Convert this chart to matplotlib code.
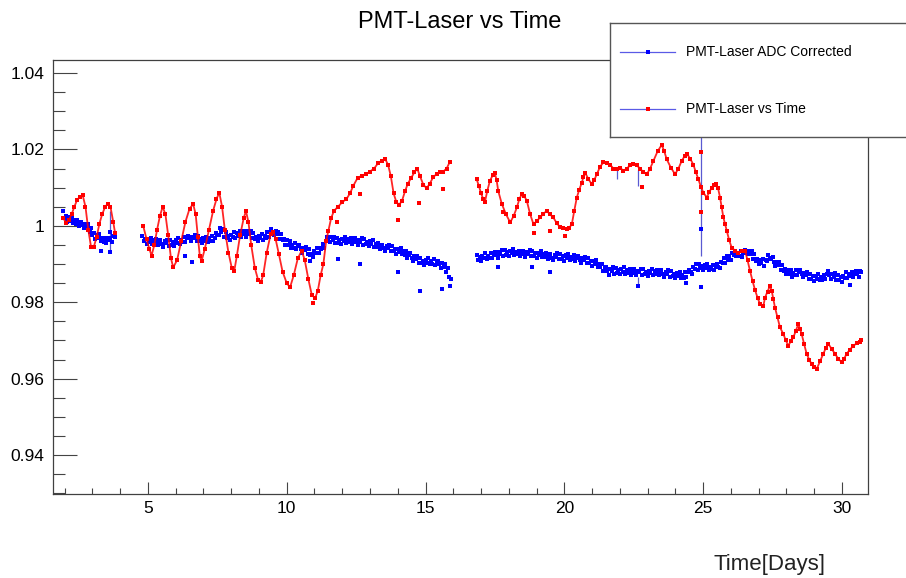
import numpy as np
import matplotlib.pyplot as plt
from matplotlib.ticker import MultipleLocator

plt.rcParams['font.family'] = ['Liberation Sans', 'DejaVu Sans']

# PMT/laser ratio after ADC correction, one value every 0.05 day, one list per run period
blue_start = [1.95, 4.80, 16.85]
blue_step = 0.05
blue_v1 = [
    1.0038, 1.0020, 1.0025, 1.0011, 1.0023, 1.0013, 1.0024, 1.0007, 1.0014, 1.0006,
    1.0016, 1.0000, 1.0007, 1.0011, 1.0001, 0.9993, 1.0005, 0.9999, 1.0004, 0.9983,
    0.9993, 0.9975, 0.9980, 0.9966, 0.9977, 0.9968, 0.9978, 0.9960, 0.9967, 0.9958,
    0.9969, 0.9954, 0.9963, 0.9968, 0.9962, 0.9957, 0.9974, 0.9971]
blue_v2 = [
    0.9973, 0.9959, 0.9965, 0.9952, 0.9965, 0.9958, 0.9969, 0.9953, 0.9962, 0.9954,
    0.9965, 0.9950, 0.9958, 0.9962, 0.9953, 0.9945, 0.9959, 0.9954, 0.9964, 0.9948,
    0.9963, 0.9950, 0.9957, 0.9947, 0.9962, 0.9956, 0.9968, 0.9953, 0.9963, 0.9958,
    0.9970, 0.9957, 0.9968, 0.9974, 0.9967, 0.9959, 0.9972, 0.9967, 0.9976, 0.9959,
    0.9973, 0.9959, 0.9966, 0.9954, 0.9968, 0.9960, 0.9972, 0.9957, 0.9967, 0.9961,
    0.9973, 0.9959, 0.9969, 0.9980, 0.9976, 0.9975, 0.9994, 0.9985, 0.9991, 0.9972,
    0.9983, 0.9969, 0.9974, 0.9962, 0.9975, 0.9970, 0.9983, 0.9969, 0.9980, 0.9974,
    0.9987, 0.9972, 0.9982, 0.9987, 0.9978, 0.9972, 0.9986, 0.9979, 0.9986, 0.9968,
    0.9980, 0.9965, 0.9970, 0.9959, 0.9974, 0.9967, 0.9979, 0.9964, 0.9973, 0.9969,
    0.9983, 0.9971, 0.9983, 0.9991, 0.9985, 0.9975, 0.9986, 0.9978, 0.9985, 0.9966,
    0.9978, 0.9962, 0.9965, 0.9951, 0.9962, 0.9951, 0.9960, 0.9943, 0.9951, 0.9943,
    0.9954, 0.9938, 0.9946, 0.9949, 0.9939, 0.9930, 0.9942, 0.9936, 0.9944, 0.9925,
    0.9938, 0.9923, 0.9927, 0.9918, 0.9934, 0.9928, 0.9942, 0.9929, 0.9941, 0.9938,
    0.9952, 0.9943, 0.9959, 0.9970, 0.9967, 0.9958, 0.9971, 0.9964, 0.9972, 0.9955,
    0.9968, 0.9955, 0.9962, 0.9952, 0.9966, 0.9959, 0.9972, 0.9956, 0.9965, 0.9958,
    0.9969, 0.9953, 0.9962, 0.9967, 0.9957, 0.9950, 0.9964, 0.9958, 0.9968, 0.9951,
    0.9966, 0.9952, 0.9958, 0.9947, 0.9960, 0.9952, 0.9962, 0.9945, 0.9953, 0.9945,
    0.9954, 0.9938, 0.9946, 0.9950, 0.9941, 0.9933, 0.9946, 0.9941, 0.9950, 0.9934,
    0.9948, 0.9934, 0.9939, 0.9927, 0.9940, 0.9932, 0.9942, 0.9925, 0.9933, 0.9924,
    0.9934, 0.9917, 0.9924, 0.9928, 0.9917, 0.9908, 0.9920, 0.9913, 0.9921, 0.9903,
    0.9916, 0.9902, 0.9909, 0.9897, 0.9911, 0.9903, 0.9915, 0.9899, 0.9908, 0.9901,
    0.9912, 0.9897, 0.9906, 0.9909, 0.9899, 0.9890, 0.9902, 0.9893, 0.9899, 0.9879,
    0.9890, 0.9866, 0.9862]
blue_v3 = [
    0.9923, 0.9910, 0.9918, 0.9907, 0.9922, 0.9915, 0.9928, 0.9912, 0.9922, 0.9916,
    0.9929, 0.9915, 0.9925, 0.9931, 0.9923, 0.9916, 0.9931, 0.9926, 0.9937, 0.9921,
    0.9937, 0.9924, 0.9932, 0.9921, 0.9935, 0.9928, 0.9939, 0.9923, 0.9932, 0.9925,
    0.9935, 0.9920, 0.9929, 0.9934, 0.9925, 0.9918, 0.9931, 0.9926, 0.9936, 0.9920,
    0.9934, 0.9921, 0.9928, 0.9917, 0.9930, 0.9923, 0.9934, 0.9918, 0.9926, 0.9918,
    0.9929, 0.9913, 0.9922, 0.9926, 0.9917, 0.9910, 0.9923, 0.9918, 0.9928, 0.9912,
    0.9926, 0.9913, 0.9920, 0.9909, 0.9923, 0.9915, 0.9927, 0.9911, 0.9919, 0.9912,
    0.9923, 0.9907, 0.9916, 0.9921, 0.9911, 0.9903, 0.9916, 0.9910, 0.9919, 0.9902,
    0.9916, 0.9902, 0.9908, 0.9896, 0.9908, 0.9900, 0.9910, 0.9892, 0.9900, 0.9891,
    0.9900, 0.9883, 0.9890, 0.9892, 0.9881, 0.9872, 0.9886, 0.9881, 0.9891, 0.9875,
    0.9890, 0.9877, 0.9884, 0.9873, 0.9887, 0.9880, 0.9891, 0.9875, 0.9884, 0.9877,
    0.9887, 0.9872, 0.9881, 0.9886, 0.9877, 0.9870, 0.9883, 0.9878, 0.9888, 0.9872,
    0.9886, 0.9873, 0.9880, 0.9869, 0.9883, 0.9876, 0.9888, 0.9872, 0.9881, 0.9874,
    0.9885, 0.9870, 0.9879, 0.9884, 0.9874, 0.9867, 0.9880, 0.9875, 0.9884, 0.9867,
    0.9882, 0.9868, 0.9875, 0.9863, 0.9876, 0.9869, 0.9880, 0.9863, 0.9872, 0.9864,
    0.9878, 0.9866, 0.9878, 0.9885, 0.9879, 0.9875, 0.9891, 0.9887, 0.9899, 0.9885,
    0.9901, 0.9890, 0.9896, 0.9884, 0.9897, 0.9889, 0.9901, 0.9884, 0.9893, 0.9887,
    0.9898, 0.9884, 0.9893, 0.9899, 0.9893, 0.9889, 0.9905, 0.9903, 0.9916, 0.9903,
    0.9921, 0.9910, 0.9920, 0.9911, 0.9928, 0.9923, 0.9935, 0.9920, 0.9929, 0.9922,
    0.9934, 0.9919, 0.9930, 0.9937, 0.9930, 0.9925, 0.9935, 0.9927, 0.9933, 0.9913,
    0.9925, 0.9909, 0.9913, 0.9899, 0.9911, 0.9903, 0.9913, 0.9896, 0.9910, 0.9907,
    0.9923, 0.9912, 0.9917, 0.9919, 0.9906, 0.9895, 0.9906, 0.9897, 0.9904, 0.9885,
    0.9898, 0.9882, 0.9887, 0.9873, 0.9885, 0.9875, 0.9885, 0.9866, 0.9877, 0.9872,
    0.9885, 0.9872, 0.9880, 0.9884, 0.9873, 0.9865, 0.9877, 0.9870, 0.9879, 0.9861,
    0.9875, 0.9862, 0.9868, 0.9856, 0.9869, 0.9862, 0.9873, 0.9857, 0.9865, 0.9858,
    0.9872, 0.9860, 0.9873, 0.9881, 0.9870, 0.9862, 0.9874, 0.9867, 0.9876, 0.9858,
    0.9872, 0.9858, 0.9865, 0.9853, 0.9869, 0.9864, 0.9878, 0.9864, 0.9874, 0.9868,
    0.9880, 0.9865, 0.9875, 0.9881, 0.9873, 0.9867, 0.9883, 0.9879]
blue_extra = [(3.30, 0.9935), (3.62, 0.9932), (3.63, 0.9985), (6.33, 0.9922), (6.57, 0.9904),
              (10.84, 0.9909), (11.85, 0.9914), (12.64, 0.9900), (14.00, 0.9878),
              (14.80, 0.9830), (15.58, 0.9835), (15.88, 0.9843), (17.60, 0.9891),
              (18.83, 0.9891), (19.49, 0.9878), (22.66, 0.9843), (24.40, 0.9850),
              (24.94, 0.9839), (24.94, 0.9991), (30.30, 0.9846)]

# raw PMT/laser ratio (day, value), one list per run period
red_seg1 = [(1.95, 1.0020), (2.05, 1.0008), (2.15, 1.0015), (2.25, 1.0030), (2.35, 1.0050),
            (2.45, 1.0068), (2.55, 1.0076), (2.65, 1.0080), (2.75, 1.0050), (2.85, 0.9990),
            (2.95, 0.9945), (3.05, 0.9945), (3.15, 0.9970), (3.25, 1.0005), (3.35, 1.0030),
            (3.45, 1.0048), (3.55, 1.0058), (3.65, 1.0050), (3.75, 1.0010), (3.82, 0.9980)]
red_seg2 = [(4.83, 1.0000), (4.95, 0.9965), (5.05, 0.9940), (5.13, 0.9922), (5.23, 0.9950),
            (5.33, 0.9990), (5.43, 1.0025), (5.53, 1.0050), (5.63, 1.0030), (5.73, 0.9975),
            (5.83, 0.9915), (5.91, 0.9891), (6.05, 0.9910), (6.20, 0.9960), (6.35, 1.0010),
            (6.50, 1.0045), (6.63, 1.0057), (6.72, 1.0030), (6.80, 0.9970), (6.87, 0.9920),
            (6.93, 0.9907), (7.05, 0.9940), (7.20, 0.9990), (7.35, 1.0040), (7.47, 1.0070),
            (7.57, 1.0087), (7.67, 1.0050), (7.77, 0.9990), (7.90, 0.9930), (8.02, 0.9890),
            (8.11, 0.9882), (8.20, 0.9920), (8.32, 0.9975), (8.45, 1.0020), (8.53, 1.0039),
            (8.62, 1.0010), (8.72, 0.9950), (8.85, 0.9890), (8.97, 0.9858), (9.06, 0.9852),
            (9.15, 0.9870), (9.28, 0.9930), (9.42, 0.9978), (9.52, 0.9985), (9.60, 0.9965),
            (9.72, 0.9925), (9.85, 0.9880), (10.00, 0.9850), (10.12, 0.9839), (10.25, 0.9870),
            (10.40, 0.9915), (10.54, 0.9935), (10.65, 0.9910), (10.78, 0.9860), (10.90, 0.9820),
            (11.02, 0.9810), (11.12, 0.9830), (11.22, 0.9870), (11.32, 0.9900), (11.42, 0.9960),
            (11.50, 0.9987), (11.60, 1.0020), (11.70, 1.0039), (11.85, 1.0050), (12.00, 1.0062),
            (12.15, 1.0070), (12.28, 1.0085), (12.40, 1.0105), (12.55, 1.0125), (12.70, 1.0131),
            (12.85, 1.0135), (13.00, 1.0142), (13.15, 1.0150), (13.30, 1.0165), (13.42, 1.0170),
            (13.54, 1.0176), (13.65, 1.0160), (13.75, 1.0130), (13.85, 1.0085), (13.95, 1.0062),
            (14.05, 1.0055), (14.15, 1.0065), (14.26, 1.0090), (14.36, 1.0110), (14.48, 1.0125),
            (14.60, 1.0140), (14.70, 1.0150), (14.80, 1.0130), (14.92, 1.0108), (15.04, 1.0098),
            (15.15, 1.0110), (15.28, 1.0128), (15.40, 1.0135), (15.52, 1.0140), (15.64, 1.0142),
            (15.76, 1.0150), (15.88, 1.0168)]
red_seg3 = [(16.84, 1.0122), (16.92, 1.0105), (17.00, 1.0085), (17.08, 1.0070), (17.14, 1.0062),
            (17.22, 1.0090), (17.32, 1.0118), (17.42, 1.0132), (17.50, 1.0137), (17.56, 1.0120),
            (17.62, 1.0091), (17.75, 1.0057), (17.90, 1.0030), (18.05, 1.0009), (18.17, 1.0025),
            (18.29, 1.0048), (18.38, 1.0070), (18.47, 1.0083), (18.56, 1.0078), (18.65, 1.0065),
            (18.77, 1.0030), (18.89, 1.0004), (19.00, 1.0012), (19.13, 1.0022), (19.25, 1.0032),
            (19.37, 1.0039), (19.48, 1.0030), (19.60, 1.0022), (19.72, 1.0008), (19.85, 0.9996),
            (19.97, 0.9993), (20.09, 0.9991), (20.18, 0.9995), (20.27, 1.0004), (20.36, 1.0040),
            (20.45, 1.0074), (20.54, 1.0095), (20.63, 1.0113), (20.69, 1.0128), (20.75, 1.0139),
            (20.87, 1.0122), (20.99, 1.0109), (21.08, 1.0120), (21.17, 1.0135), (21.29, 1.0155),
            (21.41, 1.0166), (21.53, 1.0164), (21.65, 1.0160), (21.77, 1.0150), (21.89, 1.0148),
            (22.01, 1.0152), (22.13, 1.0144), (22.25, 1.0150), (22.37, 1.0158), (22.49, 1.0162),
            (22.61, 1.0158), (22.73, 1.0150), (22.85, 1.0140), (22.97, 1.0135), (23.09, 1.0150),
            (23.21, 1.0170), (23.36, 1.0195), (23.51, 1.0212), (23.60, 1.0195), (23.69, 1.0174),
            (23.84, 1.0152), (23.99, 1.0135), (24.11, 1.0150), (24.23, 1.0170), (24.33, 1.0182),
            (24.43, 1.0187), (24.54, 1.0175), (24.65, 1.0160), (24.74, 1.0140), (24.83, 1.0122),
            (24.92, 1.0102), (25.01, 1.0087), (25.13, 1.0074), (25.22, 1.0088), (25.31, 1.0100),
            (25.39, 1.0108), (25.47, 1.0110), (25.54, 1.0098), (25.61, 1.0074), (25.67, 1.0048),
            (25.73, 1.0022), (25.79, 1.0005), (25.85, 0.9987), (25.94, 0.9962), (26.03, 0.9943),
            (26.15, 0.9935), (26.27, 0.9930), (26.39, 0.9933), (26.51, 0.9935), (26.60, 0.9910),
            (26.69, 0.9882), (26.78, 0.9856), (26.87, 0.9832), (26.96, 0.9812), (27.05, 0.9795),
            (27.17, 0.9790), (27.23, 0.9812), (27.32, 0.9828), (27.41, 0.9843), (27.47, 0.9830),
            (27.53, 0.9808), (27.59, 0.9786), (27.68, 0.9760), (27.77, 0.9734), (27.89, 0.9717),
            (27.98, 0.9700), (28.07, 0.9686), (28.16, 0.9698), (28.25, 0.9708), (28.34, 0.9725),
            (28.43, 0.9743), (28.49, 0.9730), (28.55, 0.9717), (28.64, 0.9690), (28.73, 0.9665),
            (28.82, 0.9650), (28.91, 0.9638), (29.00, 0.9630), (29.09, 0.9625), (29.21, 0.9645),
            (29.33, 0.9665), (29.42, 0.9680), (29.51, 0.9691), (29.63, 0.9678), (29.75, 0.9665),
            (29.87, 0.9652), (29.99, 0.9643), (30.08, 0.9652), (30.17, 0.9665), (30.29, 0.9676),
            (30.41, 0.9686), (30.53, 0.9692), (30.65, 0.9697), (30.70, 0.9700)]
red_extra = [(10.96, 0.9797), (11.80, 1.0009), (12.64, 1.0083), (14.02, 1.0016), (14.78, 1.0061),
             (15.64, 1.0096), (17.80, 1.0035), (18.89, 0.9980), (19.49, 0.9987), (20.03, 0.9974),
             (22.79, 1.0102), (24.94, 1.0035), (24.94, 1.0194)]

# error bars drawn as vertical lines: day, low, high
err_t = [3.63, 21.89, 22.66, 22.66, 24.94]
err_lo = [0.9930, 1.0122, 1.0105, 0.9840, 0.9920]
err_hi = [1.0040, 1.0152, 1.0145, 0.9865, 1.0300]

W, H = 906, 578
fig = plt.figure(figsize=(W / 100, H / 100), dpi=100)
ax = fig.add_axes([53 / W, (H - 494) / H, 815 / W, 434 / H])

ax.vlines(err_t, err_lo, err_hi, color='#5a5ad2', lw=0.9, zorder=2)

for start, vals in zip(blue_start, [blue_v1, blue_v2, blue_v3]):
    t = start + blue_step * np.arange(len(vals))
    ax.plot(t, vals, 's', ms=2.4, mew=0, color='blue', zorder=3)
bx, by = zip(*blue_extra)
ax.plot(bx, by, 's', ms=2.4, mew=0, color='blue', zorder=3)

for seg in [red_seg1, red_seg2, red_seg3]:
    t, v = zip(*seg)
    ax.plot(t, v, '-', lw=1.3, color='red', alpha=0.85, zorder=4)
    ax.plot(t, v, 's', ms=2.3, mew=0, color='red', zorder=4)
rx, ry = zip(*red_extra)
ax.plot(rx, ry, 's', ms=2.3, mew=0, color='red', zorder=4)

ax.set_xlim(1.58, 30.94)
ax.set_ylim(0.9298, 1.0434)
ax.set_xticks([5, 10, 15, 20, 25, 30])
ax.xaxis.set_minor_locator(MultipleLocator(1))
ax.set_yticks([0.94, 0.96, 0.98, 1.0, 1.02, 1.04])
ax.set_yticklabels(['0.94', '0.96', '0.98', '1', '1.02', '1.04'])
ax.yaxis.set_minor_locator(MultipleLocator(0.005))
ax.tick_params(axis='y', which='major', direction='in', length=17, width=0.8,
               color='#444444', labelsize=12.5, pad=6, right=False)
ax.tick_params(axis='y', which='minor', direction='in', length=8.5, width=0.8,
               color='#444444', right=False)
ax.tick_params(axis='x', which='major', direction='in', length=9, width=0.8,
               color='#444444', labelsize=12.5, pad=5, top=False)
ax.tick_params(axis='x', which='minor', direction='in', length=4.5, width=0.8,
               color='#444444', top=False)
for sp in ax.spines.values():
    sp.set_color('#404040')
    sp.set_linewidth(0.9)

fig.text(460 / W, (H - 22) / H, 'PMT-Laser vs Time', ha='center', va='center', fontsize=17)
fig.text(825 / W, 0.006, 'Time[Days]', ha='right', va='bottom', fontsize=16, color='#222222')

# legend box
lax = fig.add_axes([610 / W, (H - 137) / H, 300 / W, 114 / H])
lax.set_xlim(0, 1)
lax.set_ylim(0, 1)
lax.set_xticks([])
lax.set_yticks([])
for sp in lax.spines.values():
    sp.set_color('#555555')
    sp.set_linewidth(1.0)
labels = ['PMT-Laser ADC Corrected', 'PMT-Laser vs Time']
marker_colors = ['blue', 'red']
for y, lab, mc in zip([0.746, 0.246], labels, marker_colors):
    lax.plot([0.033, 0.217], [y, y], color='#5a5ae6', lw=0.9)
    lax.plot([0.127], [y], 's', ms=2.2, mew=0, color=mc)
    lax.text(0.254, y, lab, va='center', ha='left', fontsize=10)

fig.savefig('out.png', dpi=100)
